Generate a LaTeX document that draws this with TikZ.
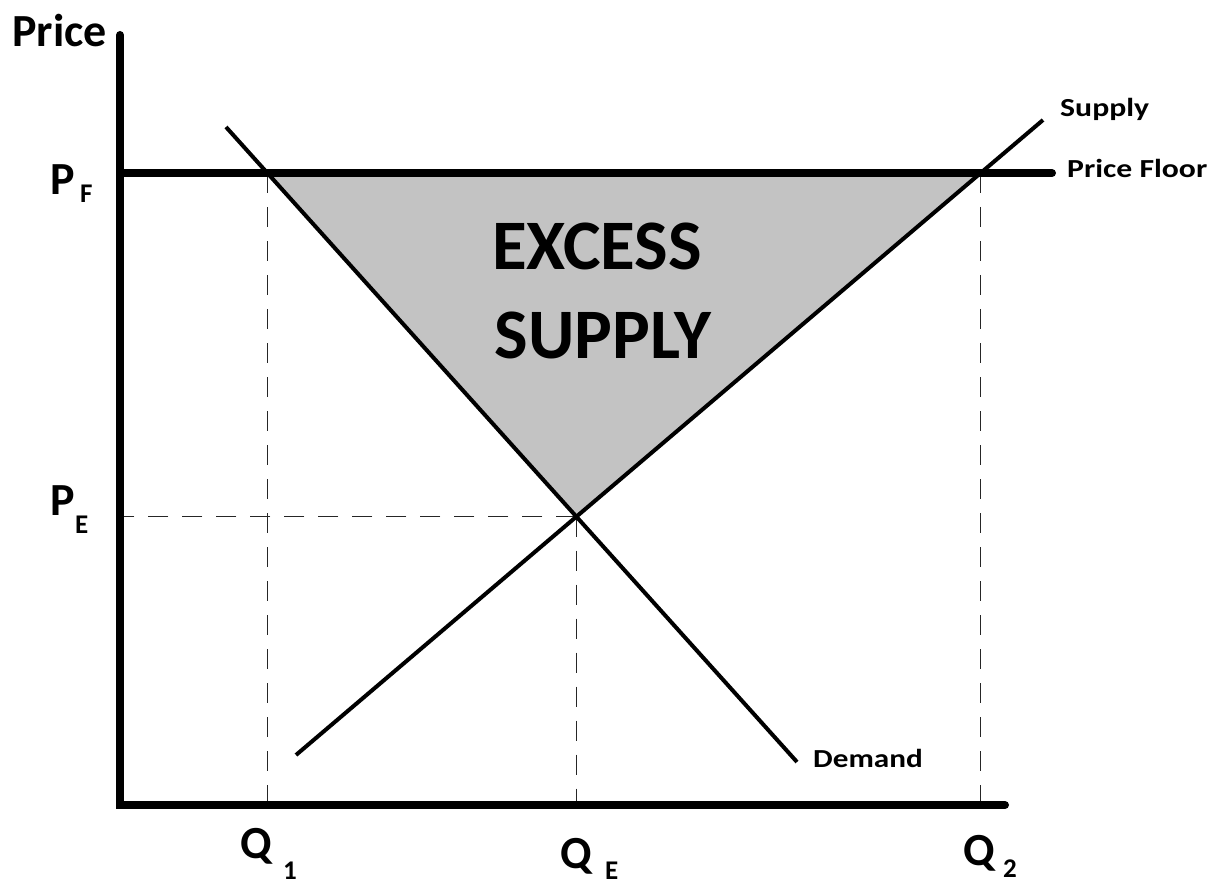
\documentclass[tikz,border=0pt]{standalone}
\usepackage{fontspec}
\setmainfont{Carlito}
\definecolor{areagray}{RGB}{195,195,195}
\begin{document}
\begin{tikzpicture}[x=1pt,y=-1pt,
  axisline/.style={line width=8pt, line cap=round, line join=miter},
  curve/.style={line width=4pt},
  guide/.style={line width=1.4pt, dash pattern=on 20pt off 14pt, black!85},
  big/.style={inner sep=0pt, anchor=base west, font=\bfseries\fontsize{46}{50}\selectfont},
  sub/.style={inner sep=0pt, anchor=base west, font=\bfseries\fontsize{27}{30}\selectfont},
  small/.style={inner sep=0pt, anchor=base west, font=\bfseries\fontsize{26}{30}\selectfont},
  huge/.style={inner sep=0pt, anchor=base, font=\bfseries\fontsize{71}{80}\selectfont}]
\useasboundingbox (0,0) rectangle (1210,885);
% key points
\coordinate (O) at (120,805);
\coordinate (ytop) at (120,35);
\coordinate (xend) at (1005,805);
\coordinate (d1) at (226,127);
\coordinate (d2) at (797,762);
\coordinate (s1) at (296,755);
\coordinate (s2) at (1043,120);
\coordinate (f0) at (120,173);
\coordinate (f1) at (1052,173);
\coordinate (E) at (intersection of d1--d2 and s1--s2);
\coordinate (A) at (intersection of d1--d2 and f0--f1);
\coordinate (B) at (intersection of s1--s2 and f0--f1);
% shaded region
\fill[areagray] (A) -- (B) -- (E) -- cycle;
% guides
\draw[guide] (A) -- (A |- O);
\draw[guide] (E) -- (E |- O);
\draw[guide] (B) -- (B |- O);
\draw[guide] (E) -- (E -| O);
% curves
\draw[curve] (d1) -- (d2);
\draw[curve] (s1) -- (s2);
\draw[axisline] (f0) -- (f1);
\draw[axisline] (ytop) -- (O) -- (xend);
% text
\node[big] (price) at (12,47) {Price};
\node[big] (pf) at (50,195) {P};
\node[sub] (pfs) at (80,203) {F};
\node[big] (pe) at (50,515) {P};
\node[sub] (pes) at (75,533) {E};
\node[big] (q1) at (240,858) {Q};
\node[sub] (q1s) at (283,879) {1};
\node[big] (qe) at (560,868) {Q};
\node[sub] (qes) at (605,879) {E};
\node[big] (q2) at (963,865) {Q};
\node[sub] (q2s) at (1003,877) {2};
\node[small] (slbl) at (1060,117) {\scalebox{1.22}[1]{Supply}};
\node[small] (flbl) at (1067,178) {\scalebox{1.22}[1]{Price Floor}};
\node[small] (dlbl) at (813,767) {\scalebox{1.2}[1]{Demand}};
\node[huge] (ex1) at (597,270) {EXCESS};
\node[huge] (ex2) at (603,358) {SUPPLY};
\end{tikzpicture}
\end{document}
